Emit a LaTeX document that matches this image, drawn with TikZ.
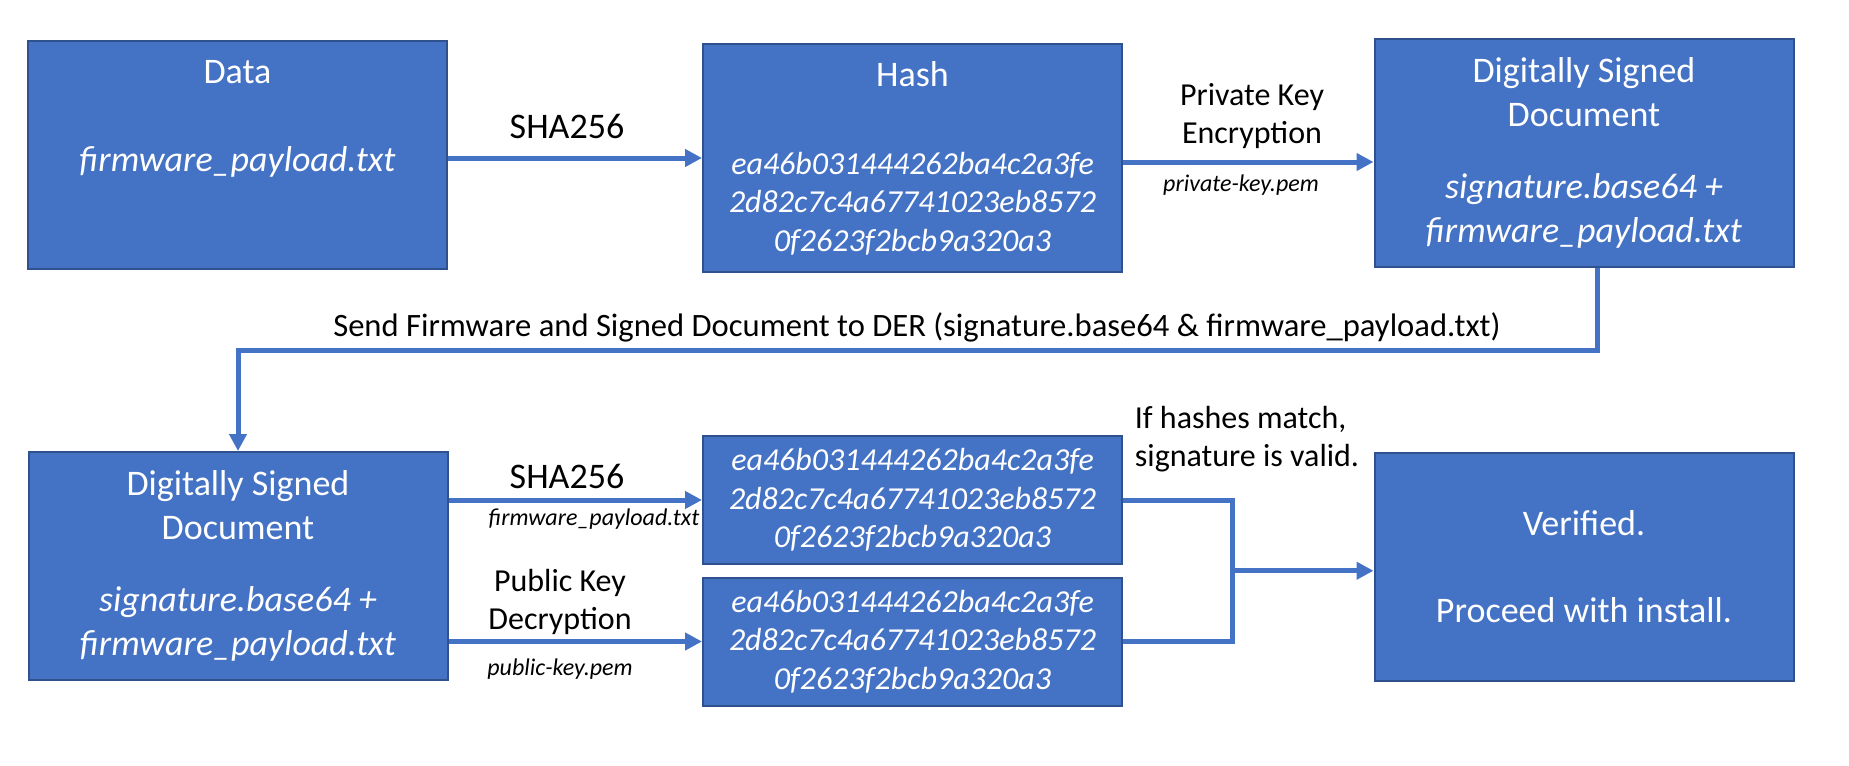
\documentclass[tikz,border=0pt]{standalone}
\usepackage{fontspec}
\setmainfont{Carlito}
\usetikzlibrary{arrows.meta,positioning,calc}
\definecolor{boxblue}{HTML}{4472C4}
\definecolor{boxedge}{HTML}{2F528F}
\tikzset{
  block/.style={draw=boxedge, line width=1pt, fill=boxblue, text=white, align=center,
    inner sep=0pt, minimum width=209.5pt, minimum height=114pt,
    font=\fontsize{18}{22}\selectfont},
  hashbox/.style={block, minimum height=64pt, font=\fontsize{16}{19.25}\selectfont},
  wire/.style={draw=boxblue, line width=2.5pt},
  flow/.style={wire, -{Triangle[length=8.5pt,width=8.5pt]}},
  bigtxt/.style={font=\fontsize{18}{22}\selectfont},
  midtxt/.style={font=\fontsize{16}{19}\selectfont, align=center},
  smalltxt/.style={font=\fontsize{12}{14}\selectfont\itshape}
}
\newcommand{\hashlines}{\textit{ea46b031444262ba4c2a3fe}\\\textit{2d82c7c4a67741023eb8572}\\\textit{0f2623f2bcb9a320a3}}

\begin{document}
\begin{tikzpicture}[x=0.5pt,y=-0.5pt]
\useasboundingbox (0,0) rectangle (1849,766);

% signing side
\node[block] (data) at (237.5,154.5) {Data\\[22pt]\textit{firmware\_payload.txt}\\[16.5pt]\mbox{}};
\node[block, font=\fontsize{16}{19.25}\selectfont] (hash) at (912.5,158)
  {{\fontsize{18}{22}\selectfont Hash}\\[24.75pt]\hashlines};
\node[block] (signed) at (1584,153)
  {Digitally Signed\\Document\\[14pt]\textit{signature.base64 +}\\\textit{firmware\_payload.txt}};

% verifying side
\node[block] (signedB) at (238,566)
  {Digitally Signed\\Document\\[14pt]\textit{signature.base64 +}\\\textit{firmware\_payload.txt}};
\node[hashbox] (hashA) at (912.5,500) {\hashlines};
\node[hashbox] (hashB) at (912.5,641.5) {\hashlines};
\node[block] (verified) at (1584,566.5) {Verified.\\[21.5pt]Proceed with install.};

% labels
\node[bigtxt] (sha) at (567,126) {SHA256};
\node[midtxt] (encrypt) at (1252,116) {Private Key\\Encryption};
\node[smalltxt] (privkey) at (1241,185) {private-key.pem};
\node[midtxt, font=\fontsize{16.3}{19}\selectfont] (send) at (917,327) {Send Firmware and Signed Document to DER (signature.base64 \& firmware\_payload.txt)};
\node[bigtxt] (shaB) at (567,476) {SHA256};
\node[smalltxt] (fwfile) at (594,519) {firmware\_payload.txt};
\node[midtxt] (decrypt) at (560,601.5) {Public Key\\Decryption};
\node[smalltxt] (pubkey) at (560,669) {public-key.pem};
\node[midtxt, align=left] (match) at (1247,439.5) {If hashes match,\\signature is valid.};

% connectors
\draw[flow] (data.east |- hash.west) -- (hash.west);
\draw[flow] ([yshift=-2pt]hash.east) -- ([yshift=-2pt]hash.east -| signed.west);
\coordinate (drop) at ([xshift=6.5pt]signed.south);
\draw[flow] (drop) -- (drop |- 0,350) -| (signedB.north);
\draw[flow] (signedB.east |- hashA.west) -- (hashA.west);
\draw[flow] (signedB.east |- hashB.west) -- (hashB.west);
\draw[wire] (hashA.east) -- ++(109,0) |- (hashB.east);
\coordinate (join) at ($(hashA.east)!0.5!(hashB.east)+(109,0)$);
\draw[flow] (join) -- (join -| verified.west);

\end{tikzpicture}
\end{document}
